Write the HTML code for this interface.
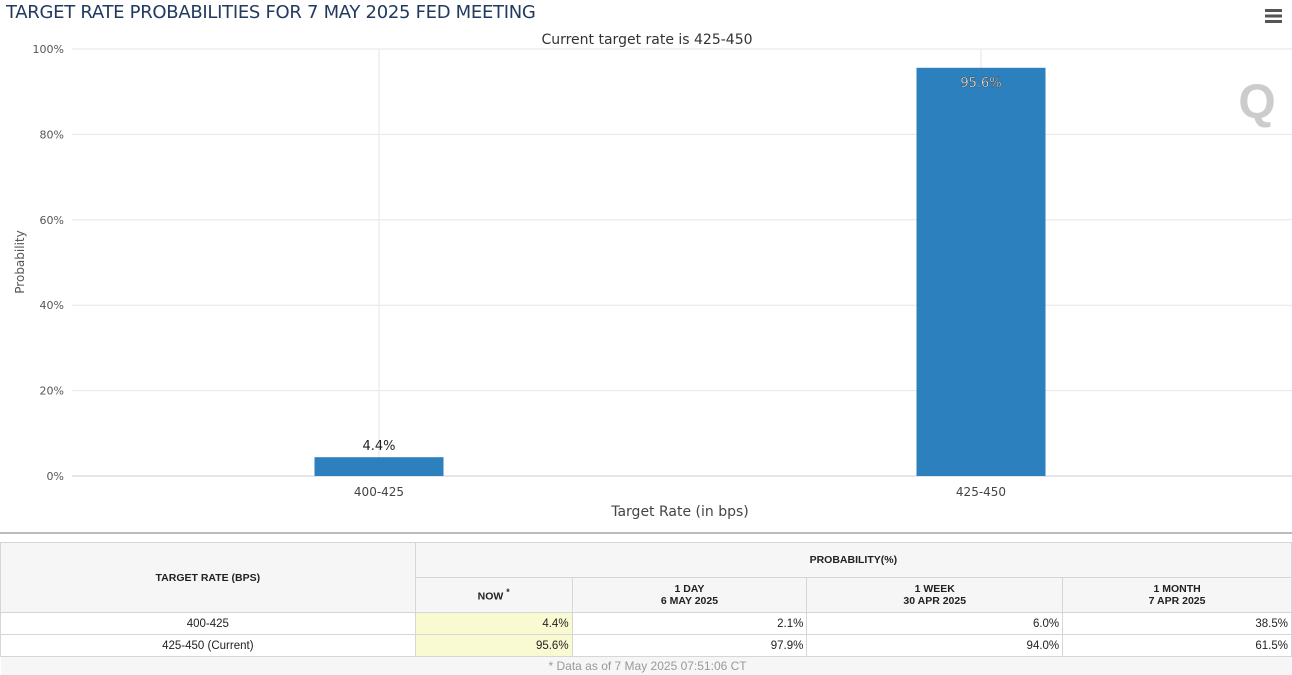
<!DOCTYPE html>
<html><head><meta charset="utf-8"><style>
body{margin:0;width:1292px;height:675px;overflow:hidden;background:#fff;font-family:"Liberation Sans",sans-serif;position:relative}
.t{position:absolute}
table{position:absolute;left:0;top:542px;width:1292px;border-collapse:collapse;font-size:11.5px;color:#222}
td{border:1px solid #d6d6d6;padding:0 3px}
.h{background:#f6f6f6;font-weight:bold;text-align:center;font-size:10.5px}
.n{text-align:right}
.y{background:#fafad2}
</style></head><body>
<div class="t" style="left:6px;top:2px;font-size:18px;color:#223a5e;font-family:'DejaVu Sans',sans-serif;letter-spacing:-0.3px">TARGET RATE PROBABILITIES FOR 7 MAY 2025 FED MEETING</div>
<div class="t" style="left:1265px;top:9px;width:17px;height:14px;background:linear-gradient(#555 0 3px,transparent 3px 5.5px,#555 5.5px 8.5px,transparent 8.5px 11px,#555 11px 14px)"></div>
<svg class="t" style="left:0;top:0" width="1292" height="540" id="chart">
<text x="647" y="44" text-anchor="middle" font-size="14" fill="#333" font-family="DejaVu Sans">Current target rate is 425-450</text>
<text x="24" y="262" transform="rotate(-90 24 262)" text-anchor="middle" font-size="12" fill="#555" font-family="DejaVu Sans">Probability</text>
<text x="680" y="516" text-anchor="middle" font-size="14" fill="#444" font-family="DejaVu Sans">Target Rate (in bps)</text>
<text x="1257" y="118" text-anchor="middle" font-size="48" font-weight="bold" fill="#ccc">Q</text>
<line x1="0" y1="533" x2="1292" y2="533" stroke="#bbb" stroke-width="2"/>
<g id="g"></g>
</svg>
<script>
const categories=["400-425","425-450"];
const values=[4.4,95.6];
const yTicks=[0,20,40,60,80,100];
const X0=78,X1=1282,Y0=476,Y1=49;
const y=v=>Y0-(v/100)*(Y0-Y1);
const bw=(X1-X0)/categories.length;
const xc=i=>X0+bw*(i+0.5);
const g=document.getElementById('g');
const NS='http://www.w3.org/2000/svg';
function mk(t,a){const e=document.createElementNS(NS,t);for(const k in a)e.setAttribute(k,a[k]);g.appendChild(e);return e;}
yTicks.forEach(v=>{
 const l=mk('line',{x1:72,x2:1292,y1:y(v),y2:y(v),stroke:v===0?'#ccc':'#e6e6e6'});
 
 
 const t=mk('text',{x:64,y:y(v)+4,'text-anchor':'end','font-size':11,fill:'#555','font-family':'DejaVu Sans'});
 t.textContent=v+'%';
 
 
});
categories.forEach((c,i)=>{
 const l=mk('line',{x1:xc(i),x2:xc(i),y1:Y1,y2:Y0,stroke:'#e6e6e6'});
 
 
 const t=mk('text',{x:xc(i),y:496,'text-anchor':'middle','font-size':12,fill:'#444','font-family':'DejaVu Sans'});
 t.textContent=c;
 
 
 const b=mk('rect',{x:xc(i)-64.5,width:129,y:y(values[i]),height:Y0-y(values[i]),fill:'#2b80bd'});
 
 
 const inside=values[i]>50;
 const lb=mk('text',{x:xc(i),y:inside?y(values[i])+19:y(values[i])-7,'text-anchor':'middle','font-size':13,fill:inside?'#fff':'#222','font-family':'DejaVu Sans',stroke:inside?'#333':'none','stroke-width':inside?0.4:0});
 lb.textContent=values[i].toFixed(1)+'%';
 
 
});
</script>
<table>
<colgroup><col style="width:415px"><col style="width:157px"><col style="width:235px"><col style="width:256px"><col style="width:229px"></colgroup>
<tr style="height:35px"><td class="h" rowspan="2">TARGET RATE (BPS)</td><td class="h" colspan="4">PROBABILITY(%)</td></tr>
<tr style="height:35px"><td class="h">NOW <sup>*</sup></td><td class="h">1 DAY<br>6 MAY 2025</td><td class="h">1 WEEK<br>30 APR 2025</td><td class="h">1 MONTH<br>7 APR 2025</td></tr>
<tr style="height:22px"><td style="text-align:center">400-425</td><td class="n y">4.4%</td><td class="n">2.1%</td><td class="n">6.0%</td><td class="n">38.5%</td></tr>
<tr style="height:22px"><td style="text-align:center">425-450 (Current)</td><td class="n y">95.6%</td><td class="n">97.9%</td><td class="n">94.0%</td><td class="n">61.5%</td></tr>
<tr style="height:18px"><td colspan="5" style="background:#f6f6f6;border:none;padding-left:548px;color:#999;font-size:12px">* Data as of 7 May 2025 07:51:06 CT</td></tr>
</table>
</body></html>
